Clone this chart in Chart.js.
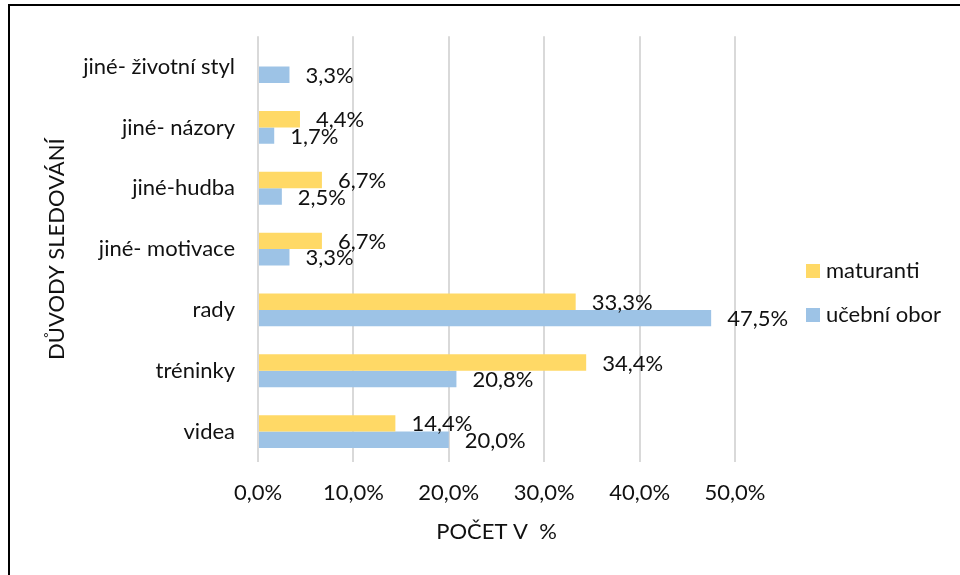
<!DOCTYPE html>
<html>
<head>
<meta charset="utf-8">
<script src="https://cdn.jsdelivr.net/npm/chart.js@4"></script>
<style>
  body { margin: 0; background: #fff; }
  #wrap { position: relative; width: 960px; height: 575px; overflow: hidden; }
  #frame { position: absolute; left: 8px; top: 4px; width: 1000px; height: 700px;
           border-left: 2px solid #000; border-top: 2px solid #000; pointer-events: none; }
</style>
</head>
<body>
<div id="wrap">
  <canvas id="chart" width="960" height="575"></canvas>
  <div id="frame"></div>
</div>
<script>
const categories = ["jiné- životní styl", "jiné- názory", "jiné-hudba", "jiné- motivace", "rady", "tréninky", "videa"];
const maturanti = [null, 4.4, 6.7, 6.7, 33.3, 34.4, 14.4];
const ucebniObor = [3.3, 1.7, 2.5, 3.3, 47.5, 20.8, 20.0];
const xTicks = [0, 10, 20, 30, 40, 50];

const FONT = "Lato, 'Open Sans', sans-serif";
const fmt = v => v.toFixed(1).replace(".", ",") + "%";

// value labels just past the end of each bar
const barLabels = {
  id: "barLabels",
  afterDatasetsDraw(chart) {
    const ctx = chart.ctx;
    ctx.save();
    ctx.font = "22px " + FONT;
    ctx.fillStyle = "#111";
    ctx.textAlign = "left";
    ctx.textBaseline = "middle";
    chart.data.datasets.forEach((ds, di) => {
      chart.getDatasetMeta(di).data.forEach((bar, i) => {
        const v = ds.data[i];
        if (v == null) return;
        ctx.fillText(fmt(v), bar.x + 16, bar.y + 1);
      });
    });
    ctx.restore();
  }
};

// legend on the right
const sideLegend = {
  id: "sideLegend",
  afterDraw(chart) {
    const ctx = chart.ctx;
    ctx.save();
    ctx.font = "22px " + FONT;
    ctx.textBaseline = "middle";
    ctx.textAlign = "left";
    chart.data.datasets.forEach((ds, i) => {
      const y = 271 + i * 44;
      ctx.fillStyle = ds.backgroundColor;
      ctx.fillRect(806, y - 7, 14, 14);
      ctx.fillStyle = "#111";
      ctx.fillText(ds.label, 826, y);
    });
    ctx.restore();
  }
};

new Chart(document.getElementById("chart"), {
  type: "bar",
  data: {
    labels: categories,
    datasets: [
      { label: "maturanti", data: maturanti, backgroundColor: "#FFD966" },
      { label: "učební obor", data: ucebniObor, backgroundColor: "#9DC3E6" }
    ]
  },
  options: {
    indexAxis: "y",
    responsive: false,
    animation: false,
    layout: { padding: { left: 0, right: 225, top: 33, bottom: 0 } },
    datasets: { bar: { categoryPercentage: 0.54, barPercentage: 1.0 } },
    plugins: { legend: { display: false }, tooltip: { enabled: false } },
    scales: {
      x: {
        min: 0, max: 50,
        afterBuildTicks: s => { s.ticks = xTicks.map(v => ({ value: v })); },
        afterFit: s => { s.height = 113; },
        grid: { color: "#d9d9d9", lineWidth: 2, drawTicks: false },
        border: { display: false },
        ticks: { padding: 18, color: "#111", font: { family: FONT, size: 22 }, callback: v => fmt(v) },
        title: { display: true, text: "POČET V  %", color: "#111", font: { family: FONT, size: 22 }, padding: { bottom: 30 } }
      },
      y: {
        afterFit: s => { s.width = 258; },
        grid: { display: false, drawTicks: false },
        border: { display: false },
        ticks: { padding: 23, color: "#111", font: { family: FONT, size: 22 } },
        title: { display: true, text: "DŮVODY SLEDOVÁNÍ", color: "#111", font: { family: FONT, size: 22 }, padding: { top: 44 } }
      }
    }
  },
  plugins: [barLabels, sideLegend]
});
</script>
</body>
</html>
